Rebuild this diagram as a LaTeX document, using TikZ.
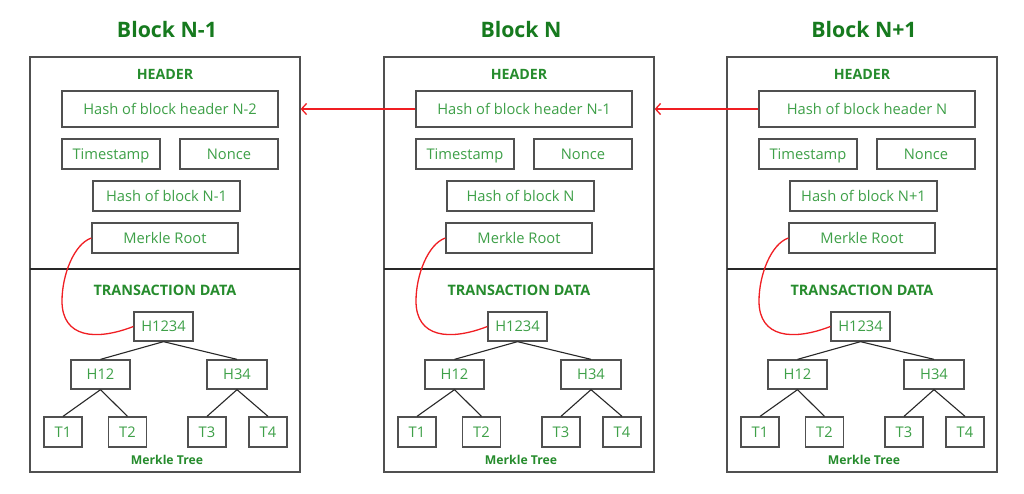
\documentclass[tikz,border=0pt]{standalone}
\usepackage{fontspec}
\setmainfont{Open Sans}
\usetikzlibrary{arrows.meta}
\definecolor{titlegreen}{RGB}{22,122,30}
\definecolor{headgreen}{RGB}{38,140,45}
\definecolor{txtgreen}{RGB}{62,160,72}
\definecolor{boxgray}{RGB}{80,80,80}
\definecolor{divgray}{RGB}{40,40,40}
\definecolor{linkred}{RGB}{240,30,35}
\tikzset{
  box/.style={draw=boxgray, line width=1.3pt, rectangle, inner sep=0pt, text=txtgreen, font=\fontsize{14.7}{17}\selectfont, text height=13pt, text depth=2.5pt},
  outerbox/.style={draw=boxgray, line width=1.3pt, rectangle, inner sep=0pt, minimum width=270pt, minimum height=415pt},
  titletext/.style={text=titlegreen, font=\fontsize{21.3}{25}\selectfont\bfseries},
  headtext/.style={text=headgreen, font=\fontsize{14.2}{17}\selectfont\bfseries},
  tdtext/.style={text=headgreen, font=\fontsize{14.4}{17}\selectfont\bfseries},
  treetext/.style={text=headgreen, font=\fontsize{12.2}{14}\selectfont\bfseries},
  divider/.style={draw=divgray, line width=2pt},
  treeline/.style={draw=divgray, line width=1.1pt},
  redline/.style={draw=linkred, line width=1.3pt},
}
\newcommand\drawblock[5]{%
  \begin{scope}[xshift=#2pt]
    \node[outerbox] (#1box) at (135,264.5) {};
    \node[titletext] (#1title) at (137,30) {#3};
    \coordinate (#1dl) at (0,269);
    \coordinate (#1dr) at (270,269);
    \draw[divider] (#1dl) -- (#1dr);
    \node[headtext] (#1head) at (135,74) {HEADER};
    \node[box, minimum width=216pt, minimum height=36pt] (#1hp) at (140,109) {#4};
    \node[box, minimum width=98pt, minimum height=30pt] (#1ts) at (81,154) {Timestamp};
    \node[box, minimum width=98pt, minimum height=30pt] (#1no) at (199,154) {Nonce};
    \node[box, minimum width=147pt, minimum height=30pt] (#1hc) at (136.5,196) {#5};
    \node[box, minimum width=146pt, minimum height=30pt] (#1mr) at (135,238) {Merkle Root};
    \node[tdtext] (#1td) at (135,290) {TRANSACTION DATA};
    \node[box, minimum width=59pt, minimum height=29pt] (#1h1234) at (133.5,326.5) {H1234};
    \node[box, minimum width=59pt, minimum height=29pt] (#1h12) at (70.5,374.5) {H12};
    \node[box, minimum width=60pt, minimum height=29pt] (#1h34) at (207,374.5) {H34};
    \node[box, minimum width=38pt, minimum height=30pt] (#1t1) at (33,432) {T1};
    \node[box, minimum width=38pt, minimum height=30pt] (#1t2) at (97.5,432) {T2};
    \node[box, minimum width=38pt, minimum height=30pt] (#1t3) at (177,432) {T3};
    \node[box, minimum width=38pt, minimum height=30pt] (#1t4) at (238,432) {T4};
    \node[treetext] (#1mt) at (137,460) {Merkle Tree};
    \draw[treeline] (#1h1234.south) -- (#1h12.north);
    \draw[treeline] (#1h1234.south) -- (#1h34.north);
    \draw[treeline] (#1h12.south) -- (#1t1.north);
    \draw[treeline] (#1h12.south) -- (#1t2.north);
    \draw[treeline] (#1h34.south) -- (#1t3.north);
    \draw[treeline] (#1h34.south) -- (#1t4.north);
    \draw[redline] (#1mr.west) .. controls (44,244) and (32,275) .. (32,301)
       .. controls (32,338) and (66,341) .. (#1h1234.west);
  \end{scope}}
\begin{document}
\begin{tikzpicture}[x=1pt,y=-1pt]
  \useasboundingbox[fill=white] (0,0) rectangle (1024,493);
  \drawblock{a}{30}{Block N-1}{Hash of block header N-2}{Hash of block N-1}
  \drawblock{b}{384}{Block N}{Hash of block header N-1}{Hash of block N}
  \drawblock{c}{727}{Block N+1}{Hash of block header N}{Hash of block N+1}
  \draw[redline, -{Straight Barb[length=5pt,width=11pt,line width=1.3pt]}] (bhp.west) -- (abox.east |- bhp.west);
  \draw[redline, -{Straight Barb[length=5pt,width=11pt,line width=1.3pt]}] (chp.west) -- (bbox.east |- chp.west);
\end{tikzpicture}
\end{document}
